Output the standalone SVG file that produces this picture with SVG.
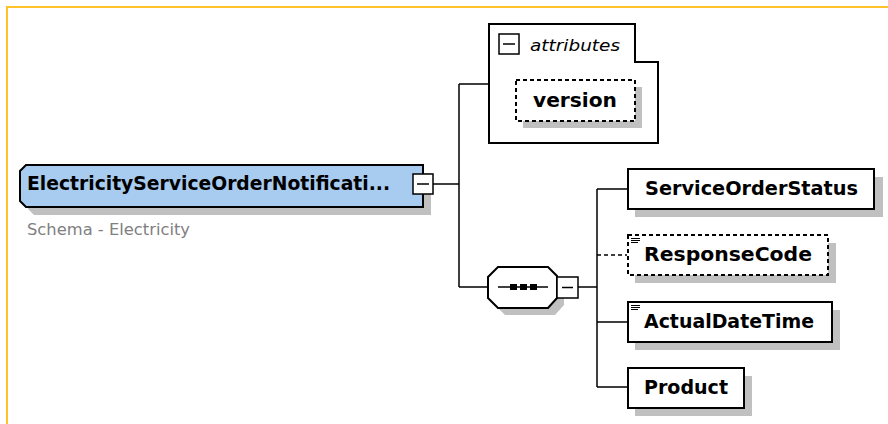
<svg xmlns="http://www.w3.org/2000/svg" width="888" height="424" viewBox="0 0 888 424">
<style>
.frame{fill:none;stroke:#FFC22A;stroke-width:2}
.box{fill:#fff;stroke:#000;stroke-width:2}
.dbox{fill:#fff;stroke:#000;stroke-width:2;stroke-dasharray:4,3}
.shadow{fill:#c0c0c0;stroke:none}
.line{fill:none;stroke:#000;stroke-width:1.5}
.dline{fill:none;stroke:#000;stroke-width:1.5;stroke-dasharray:4,3}
.lbl{font-family:"DejaVu Sans",Verdana,sans-serif;font-weight:bold;font-size:19px;fill:#000}
.sub{font-family:"DejaVu Sans",Verdana,sans-serif;font-size:15px;fill:#808080}
.it{font-family:"DejaVu Sans","Liberation Sans",sans-serif;font-style:italic;font-size:16px;fill:#000}
.mbox{fill:#fff;stroke:#000;stroke-width:1.5}
.icon{stroke:#000;stroke-width:1}
</style>
<rect width="888" height="424" fill="#fff"/>
<path class="frame" d="M7,424 V7 H888"/>
<g id="connectors">
<path class="line" d="M433,184 H459 M459,84 V287 M459,84 H489 M459,287 H488 M578,287 H597 M597,189 V387 M597,189 H627 M597,322 H627 M597,387 H627"/>
<path class="dline" d="M597,255 H627"/>
</g>
<g id="root">
<polygon class="shadow" points="34,173 431,173 431,215 34,215 28,209 28,179"/>
<polygon points="26,165 423,165 423,207 26,207 20,201 20,171" fill="#A8CBF0" stroke="#000" stroke-width="2"/>
<text class="lbl" x="27" y="190" textLength="363" lengthAdjust="spacingAndGlyphs">ElectricityServiceOrderNotificati...</text>
<rect class="mbox" x="413" y="174" width="20" height="20"/>
<path class="line" d="M417,184 H429"/>
<text class="sub" x="27" y="235" textLength="163" lengthAdjust="spacingAndGlyphs">Schema - Electricity</text>
</g>
<g id="attributes">
<path class="box" d="M489,24 H635 V62 H658 V143 H489 Z" stroke-width="1.5"/>
<rect class="mbox" x="499" y="34" width="20" height="20"/>
<path class="line" d="M503,44 H515"/>
<text class="it" x="530" y="51" textLength="90" lengthAdjust="spacingAndGlyphs">attributes</text>
</g>
<g id="version">
<rect class="shadow" x="523" y="87" width="119" height="41"/>
<rect class="dbox" x="516" y="80" width="119" height="41"/>
<text class="lbl" x="533" y="107" textLength="84" lengthAdjust="spacingAndGlyphs">version</text>
</g>
<g id="sequence">
<polygon class="shadow" points="505,274 555,274 564,283 564,305 555,315 505,315 495,305 495,284"/>
<polygon class="box" stroke-width="1.5" points="498,267 548,267 557,276 557,298 548,308 498,308 488,298 488,277"/>
<path class="line" d="M498,287 H548"/>
<rect x="510" y="284" width="7" height="6" fill="#000"/>
<rect x="520" y="284" width="7" height="6" fill="#000"/>
<rect x="530" y="284" width="7" height="6" fill="#000"/>
<rect class="mbox" x="557" y="277" width="21" height="21"/>
<path class="line" d="M562,287.5 H573"/>
</g>
<g id="ServiceOrderStatus">
<rect class="shadow" x="635" y="177" width="248" height="40"/>
<rect class="box" x="628" y="169" width="246" height="40"/>
<text class="lbl" x="645" y="195" textLength="213" lengthAdjust="spacingAndGlyphs">ServiceOrderStatus</text>
</g>
<g id="ResponseCode">
<rect class="shadow" x="635" y="243" width="201" height="40"/>
<rect class="dbox" x="628" y="235" width="200" height="40"/>
<path class="icon" d="M631,238.5 H640 M631,240.5 H640 M631,242.5 H638"/>
<text class="lbl" x="644" y="261" textLength="168" lengthAdjust="spacingAndGlyphs">ResponseCode</text>
</g>
<g id="ActualDateTime">
<rect class="shadow" x="635" y="310" width="205" height="40"/>
<rect class="box" x="628" y="302" width="204" height="40"/>
<path class="icon" d="M631,305.5 H640 M631,307.5 H640 M631,309.5 H638"/>
<text class="lbl" x="644" y="328" textLength="170" lengthAdjust="spacingAndGlyphs">ActualDateTime</text>
</g>
<g id="Product">
<rect class="shadow" x="635" y="376" width="117" height="40"/>
<rect class="box" x="628" y="368" width="116" height="40"/>
<text class="lbl" x="644" y="394" textLength="84" lengthAdjust="spacingAndGlyphs">Product</text>
</g>
</svg>
